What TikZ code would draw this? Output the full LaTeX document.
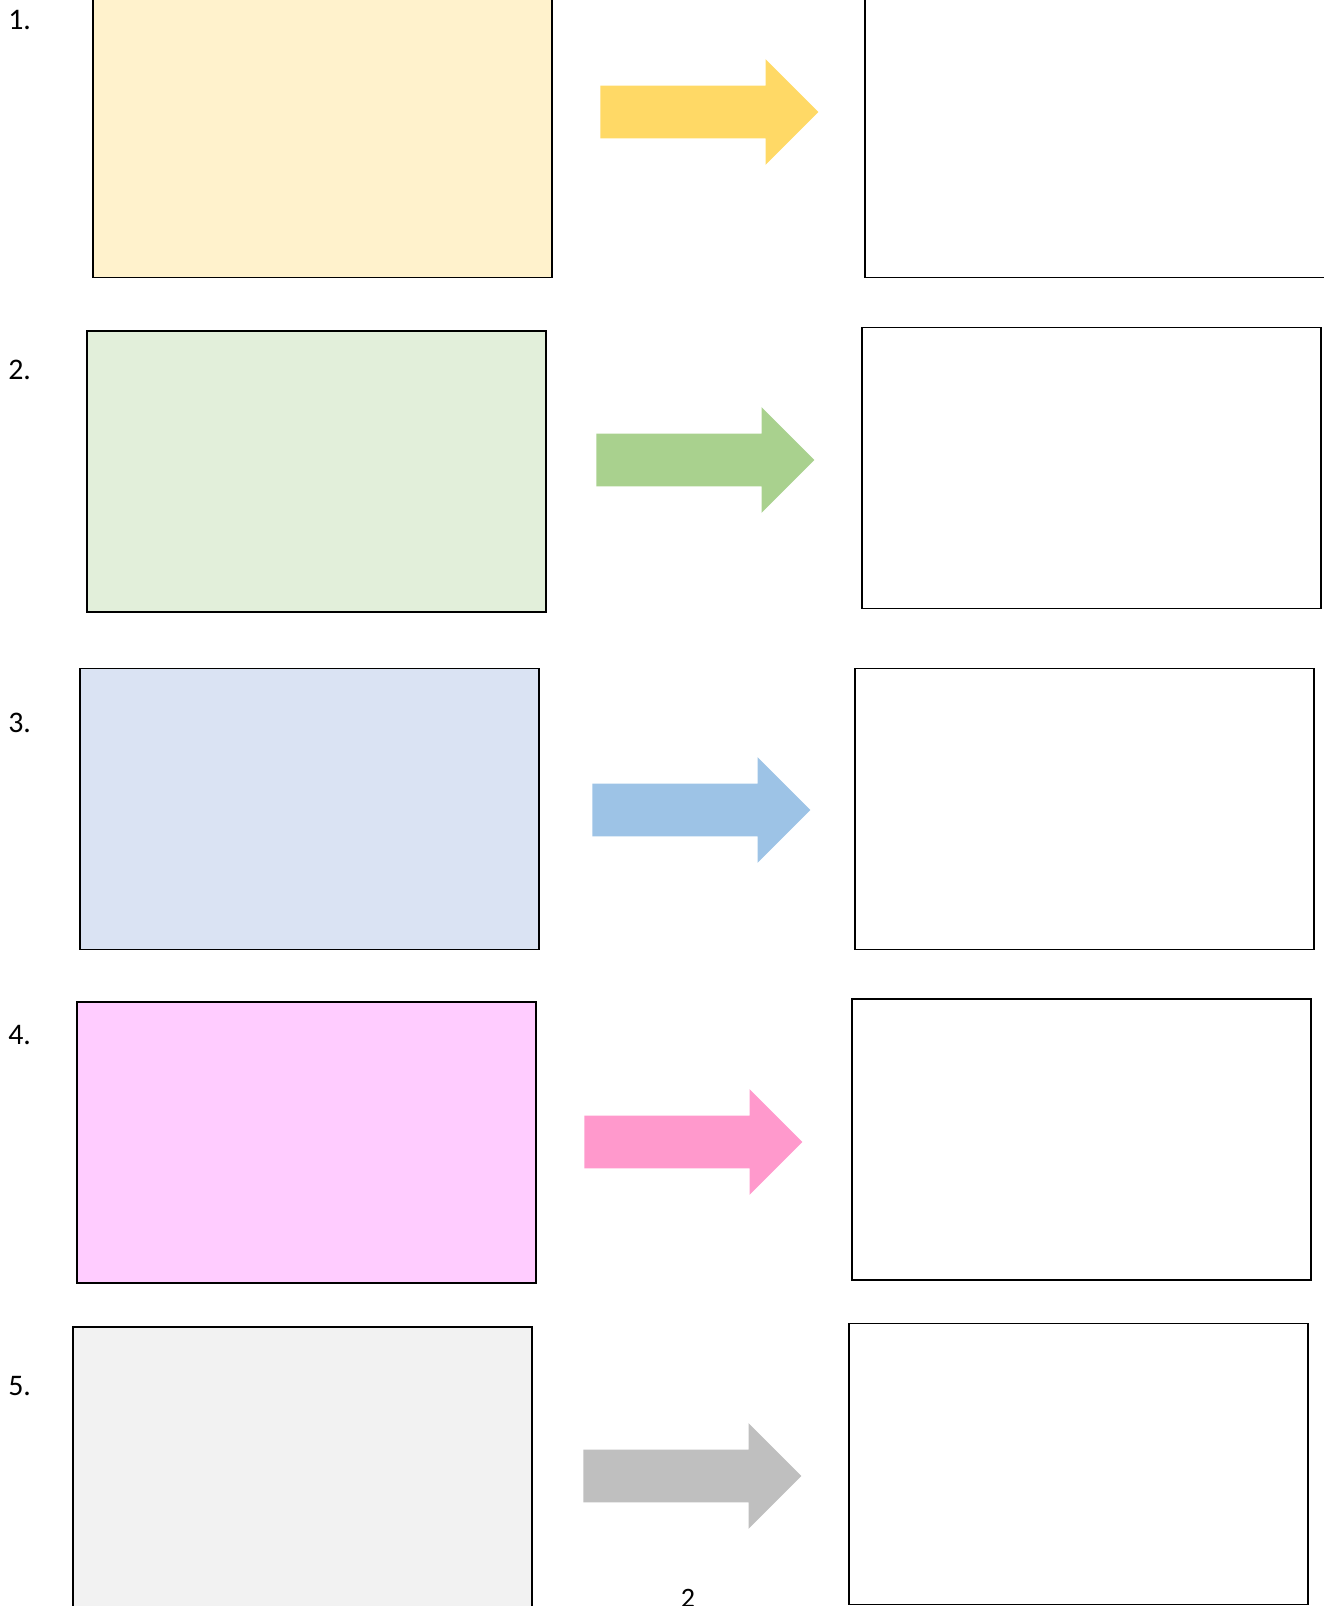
\documentclass[tikz,border=0pt]{standalone}
\usepackage{fontspec}
\setmainfont{Carlito}
\usetikzlibrary{shapes.arrows}

\definecolor{yellowfill}{HTML}{FFF2CC}
\definecolor{yellowarrow}{HTML}{FFD966}
\definecolor{greenfill}{HTML}{E2EFDA}
\definecolor{greenarrow}{HTML}{A9D18E}
\definecolor{bluefill}{HTML}{DAE3F3}
\definecolor{bluearrow}{HTML}{9DC3E6}
\definecolor{pinkfill}{HTML}{FFCCFF}
\definecolor{pinkarrow}{HTML}{FF99CC}
\definecolor{greyfill}{HTML}{F2F2F2}
\definecolor{greyarrow}{HTML}{BFBFBF}

\begin{document}
\begin{tikzpicture}[
  x=0.2mm, y=-0.2mm,
  card/.style={draw=black, line width=0.8pt, minimum width=91.8mm, minimum height=56.2mm, inner sep=0pt},
  answer/.style={card, fill=white},
  flow/.style={single arrow, draw=none, anchor=tail, minimum height=43.6mm, inner xsep=0pt, inner ysep=5.2mm, single arrow head extend=5.3mm, single arrow head indent=0pt},
  num/.style={anchor=base west, inner sep=0pt, font=\fontsize{17}{20}\selectfont}
]
  \useasboundingbox (0,0) rectangle (1323,1606);

  \node[num] (n1) at (8,30) {1.};
  \node[num] (n2) at (8,380) {2.};
  \node[num] (n3) at (8,732) {3.};
  \node[num] (n4) at (8,1044) {4.};
  \node[num] (n5) at (8,1395) {5.};

  \node[card, fill=yellowfill] (in1) at (322.5,137) {};
  \node[card, fill=greenfill] (in2) at (316.5,471.5) {};
  \node[card, fill=bluefill] (in3) at (309.5,809) {};
  \node[card, fill=pinkfill] (in4) at (306.5,1142.5) {};
  \node[card, fill=greyfill] (in5) at (302.5,1467.5) {};

  \node[flow, fill=yellowarrow] (arr1) at (600,112) {};
  \node[flow, fill=greenarrow] (arr2) at (596,460) {};
  \node[flow, fill=bluearrow] (arr3) at (592,810) {};
  \node[flow, fill=pinkarrow] (arr4) at (584,1142) {};
  \node[flow, fill=greyarrow] (arr5) at (583,1476) {};

  \node[answer, minimum width=93mm] (out1) at (1097.5,137) {};
  \node[answer] (out2) at (1091.5,468) {};
  \node[answer] (out3) at (1084.5,809) {};
  \node[answer] (out4) at (1081.5,1139.5) {};
  \node[answer] (out5) at (1078.5,1464) {};

  \node[anchor=base, inner sep=0pt, font=\fontsize{16}{19}\selectfont] (page) at (688,1607) {2};
\end{tikzpicture}
\end{document}
